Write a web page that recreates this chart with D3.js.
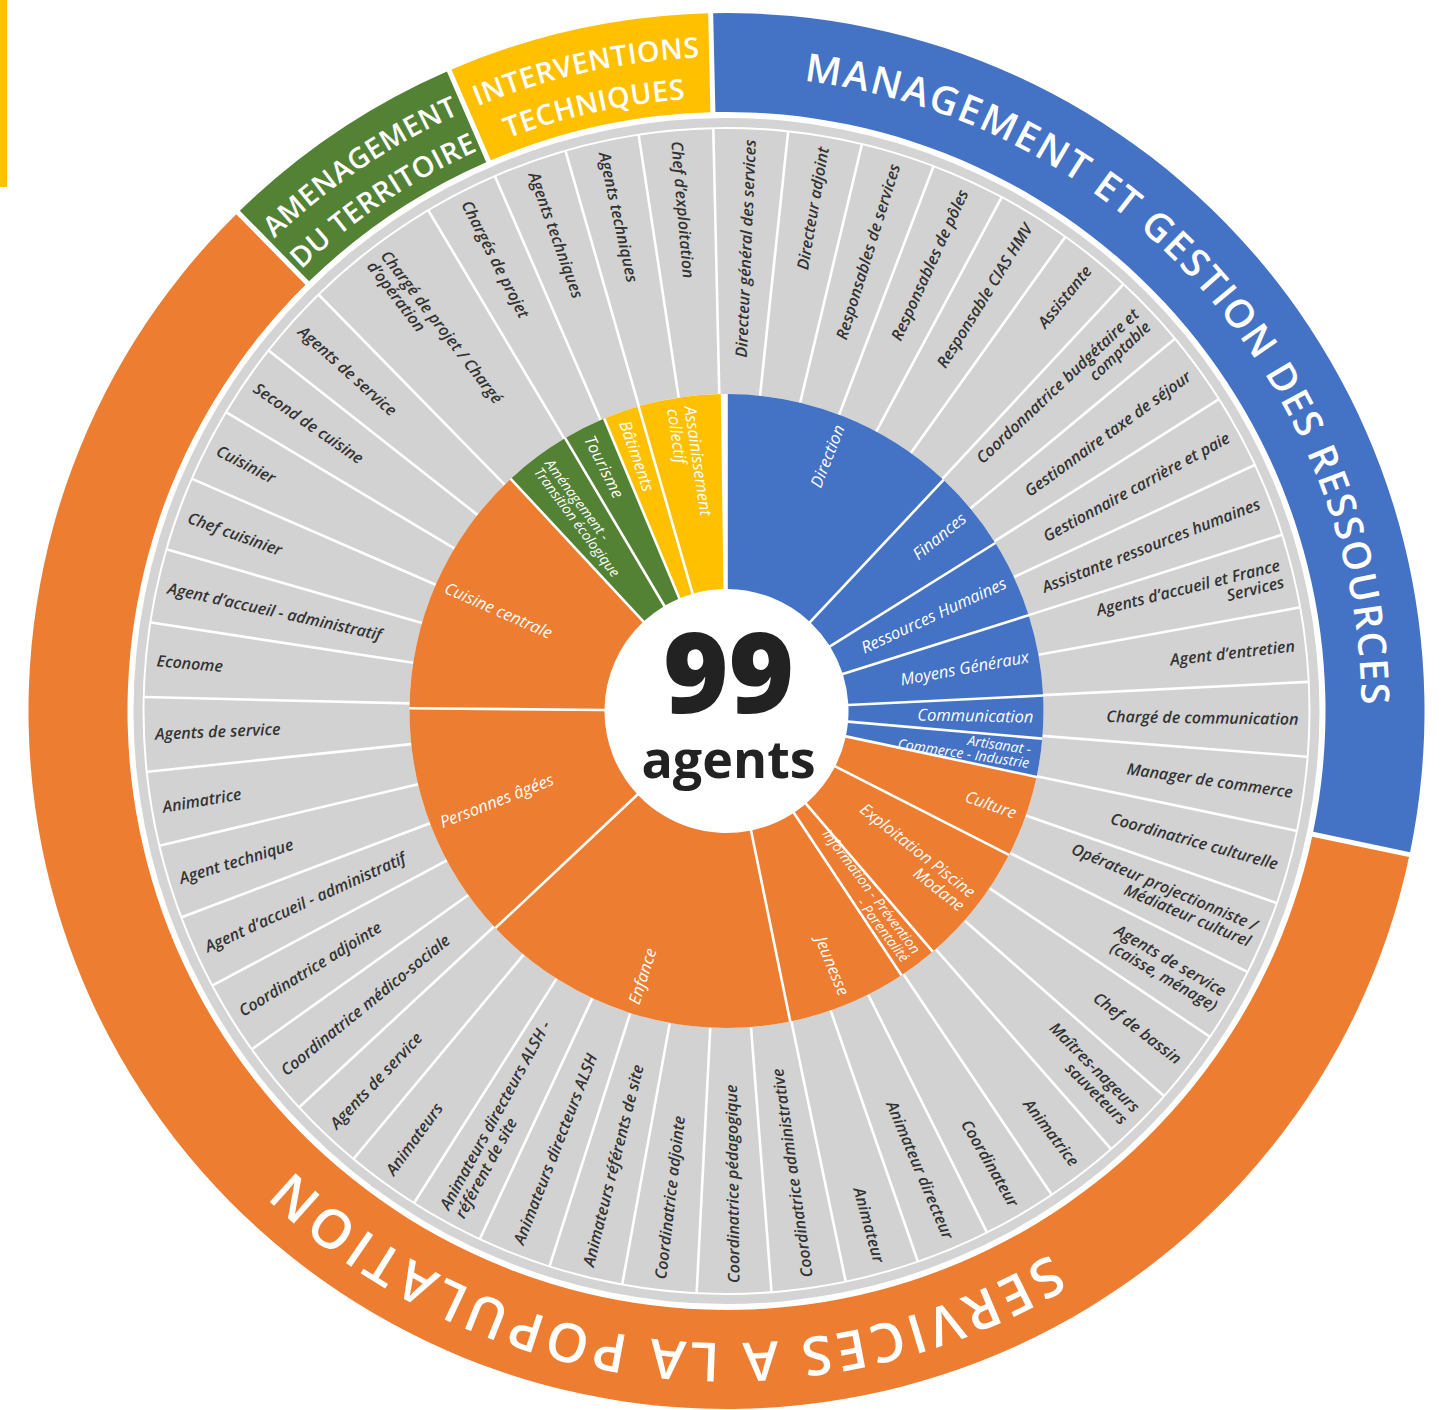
<!DOCTYPE html>
<html lang="fr">
<head>
<meta charset="utf-8">
<title>99 agents</title>
<script src="https://cdn.jsdelivr.net/npm/d3@7"></script>
<style>
  body { margin: 0; background: #fff; }
  svg { display: block; font-family: "Open Sans", "Noto Sans", sans-serif; }
  .job { fill: #333; font-style: italic; font-weight: 600; }
  .service { fill: #fff; font-style: italic; }
  .pole { fill: #fff; font-weight: 600; }
</style>
</head>
<body>
<svg width="1442" height="1410"></svg>
<script>
(function () {

    var totalAgents = 99;

    // poles (outer ring)
    var poles = ["MANAGEMENT ET GESTION DES RESSOURCES", "SERVICES A LA POPULATION",
        "AMENAGEMENT\nDU TERRITOIRE", "INTERVENTIONS\nTECHNIQUES"];
    var poleColors = ["#4472c4", "#ed7d31", "#548235", "#ffc000"];

    // services (inner ring), clockwise from 12 o'clock
    var services = ["Direction", "Finances", "Ressources Humaines", "Moyens Généraux", "Communication",
        "Artisanat -\nCommerce - Industrie", "Culture", "Exploitation Piscine\nModane",
        "Information - Prévention\n- Parentalité", "Jeunesse", "Enfance", "Personnes âgées",
        "Cuisine centrale", "Aménagement -\nTransition écologique", "Tourisme", "Bâtiments",
        "Assainissement\ncollectif"];
    var servicePole = [0, 0, 0, 0, 0, 0, 1, 1, 1, 1, 1, 1, 1, 2, 2, 3, 3];
    // share of the circle taken by each service (degrees)
    var serviceShare = [43.2, 14.8, 14.4, 14.8, 7.8, 7.0, 15.0, 22.4, 7.1, 21.9, 58.4, 43.7, 46.6,
        12.3, 7.9, 6.6, 15.3];

    // jobs (middle ring), clockwise from 12 o'clock
    var jobs = ["Directeur général des services", "Directeur adjoint", "Responsables de services",
        "Responsables de pôles", "Responsable CIAS HMV", "Assistante",
        "Coordonnatrice budgétaire et\ncomptable", "Gestionnaire taxe de séjour",
        "Gestionnaire carrière et paie", "Assistante ressources humaines",
        "Agents d’accueil et France\nServices", "Agent d’entretien", "Chargé de communication",
        "Manager de commerce", "Coordinatrice culturelle", "Opérateur projectionniste /\nMédiateur culturel",
        "Agents de service\n(caisse, ménage)", "Chef de bassin", "Maîtres-nageurs\nsauveteurs",
        "Animatrice", "Coordinateur", "Animateur directeur", "Animateur",
        "Coordinatrice administrative", "Coordinatrice pédagogique", "Coordinatrice adjointe",
        "Animateurs référents de site", "Animateurs directeurs ALSH",
        "Animateurs directeurs ALSH -\nréférent de site", "Animateurs", "Agents de service",
        "Coordinatrice médico-sociale", "Coordinatrice adjointe", "Agent d’accueil - administratif",
        "Agent technique", "Animatrice", "Agents de service", "Econome",
        "Agent d’accueil - administratif", "Chef cuisinier", "Cuisinier", "Second de cuisine",
        "Agents de service", "Chargé de projet / Chargé\nd’opération", "Chargés de projet",
        "Agents techniques", "Agents techniques", "Chef d’exploitation"];
    var jobService = [0, 0, 0, 0, 0, 0, 1, 1, 2, 2, 3, 3, 4, 5, 6, 6, 7, 7, 7, 8, 9, 9, 9,
        10, 10, 10, 10, 10, 10, 10, 10, 11, 11, 11, 11, 11, 11, 12, 12, 12, 12, 12, 12,
        13, 14, 15, 16, 16];
    // relative width of each cell
    var jobWidth = jobs.map(function (d, i) { return i === 43 ? 1.85 : 1; });

    var svg = d3.select("svg"),
        cx = 726.5, cy = 711,
        rad = Math.PI / 180,
        flipAt = 168; // past this angle labels read towards the centre

    svg.append("rect")
        .attr("x", 0).attr("y", 0)
        .attr("width", 7).attr("height", 187)
        .attr("fill", "#ffc000");

    var g = svg.append("g")
        .attr("transform", "translate(" + cx + "," + cy + ")");
    var defs = g.append("defs");

    var jobArcs = d3.pie()
        .sort(null)
        .value(function (d) { return d.w; })
        .startAngle(-1.3 * rad)
        .endAngle(358.7 * rad)(jobs.map(function (name, i) {
            return {name: name, service: jobService[i], w: jobWidth[i]};
        }));

    var serviceArcs = d3.pie()
        .sort(null)
        .value(function (d) { return d.share; })
        .startAngle(0)
        .endAngle(d3.sum(serviceShare) * rad)(services.map(function (name, i) {
            return {name: name, pole: servicePole[i], share: serviceShare[i]};
        }));

    var poleArcs = poles.map(function (name, p) {
        var own = jobArcs.filter(function (a) { return servicePole[a.data.service] === p; });
        return {
            name: name, pole: p,
            startAngle: d3.min(own, function (a) { return a.startAngle; }),
            endAngle: d3.max(own, function (a) { return a.endAngle; })
        };
    });

    // outer ring
    var poleArc = d3.arc().innerRadius(599).outerRadius(698).padRadius(650).padAngle(5 / 650);
    g.selectAll(".pole-arc")
        .data(poleArcs)
        .enter().append("path")
        .attr("class", "pole-arc")
        .attr("d", poleArc)
        .attr("fill", function (d) { return poleColors[d.pole]; });

    // thin grey band
    g.append("path")
        .attr("d", d3.arc()({innerRadius: 584, outerRadius: 593, startAngle: 0, endAngle: 2 * Math.PI}))
        .attr("fill", "#d4d4d4");

    // job cells
    var cellArc = d3.arc().innerRadius(317).outerRadius(582).padRadius(450).padAngle(2.6 / 450);
    g.selectAll(".cell")
        .data(jobArcs)
        .enter().append("path")
        .attr("class", "cell")
        .attr("d", cellArc)
        .attr("fill", "#d2d2d2");

    // services
    var serviceArc = d3.arc().innerRadius(122).outerRadius(317).padRadius(220).padAngle(2.6 / 220);
    g.selectAll(".service-arc")
        .data(serviceArcs)
        .enter().append("path")
        .attr("class", "service-arc")
        .attr("d", serviceArc)
        .attr("fill", function (d) { return poleColors[d.data.pole]; });

    function midAngle(d) {
        return (d.startAngle + d.endAngle) / 2 / rad;
    }

    function radialLabel(angle, r, label, cls, size, lead) {
        var lines = label.split("\n"),
            out = angle < flipAt;
        var t = g.append("text")
            .attr("class", cls)
            .attr("font-size", size)
            .attr("text-anchor", out ? "end" : "start")
            .attr("transform", "rotate(" + (angle - 90) + ")translate(" + r + ",0)" + (out ? "" : "rotate(180)"));
        lines.forEach(function (line, i) {
            t.append("tspan")
                .attr("x", 0).attr("y", 0)
                .attr("dy", ((i - (lines.length - 1) / 2) * lead + 0.35) + "em")
                .text(line);
        });
    }

    jobArcs.forEach(function (d) {
        radialLabel(midAngle(d), 572, d.data.name, "job", 16, 1.08);
    });

    serviceArcs.forEach(function (d) {
        var multi = d.data.name.indexOf("\n") >= 0,
            small = multi && d.data.share < 13;
        radialLabel(midAngle(d), 307, d.data.name, "service", small ? 14 : 16.5, small ? 0.98 : 1.05);
    });

    // pole titles, written along the ring
    var titleLayout = [
        {center: 48.3, radii: [635], size: 39, spacing: 2},
        {center: 186.5, radii: [632], size: 54, spacing: 4},
        {center: null, radii: [654, 613], size: 28.5, spacing: 0.5},
        {center: null, radii: [654, 613], size: 28.5, spacing: 0.5}
    ];
    poleArcs.forEach(function (d, p) {
        var L = titleLayout[p],
            mid = L.center != null ? L.center : midAngle(d);
        d.name.split("\n").forEach(function (line, i) {
            var id = "title-" + p + "-" + i,
                path = d3.path();
            path.arc(0, 0, L.radii[i], (mid - 90 - 80) * rad, (mid - 90 + 80) * rad, false);
            defs.append("path").attr("id", id).attr("d", path.toString());
            g.append("text")
                .attr("class", "pole")
                .attr("font-size", L.size)
                .attr("letter-spacing", L.spacing)
                .append("textPath")
                .attr("href", "#" + id)
                .attr("startOffset", "50%")
                .attr("text-anchor", "middle")
                .text(line);
        });
    });

    // centre
    g.append("text")
        .attr("text-anchor", "middle")
        .attr("x", 2).attr("y", 2)
        .attr("font-size", 112)
        .attr("font-weight", 800)
        .attr("fill", "#222")
        .text(totalAgents);

    g.append("text")
        .attr("text-anchor", "middle")
        .attr("x", 2).attr("y", 67)
        .attr("font-size", 52)
        .attr("font-weight", 700)
        .attr("fill", "#222")
        .text("agents");

})();
</script>
</body>
</html>
